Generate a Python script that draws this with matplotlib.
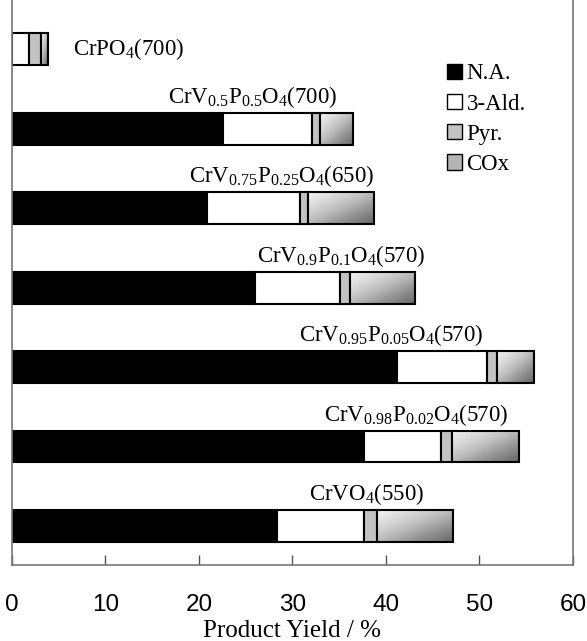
import numpy as np
import matplotlib
matplotlib.use("Agg")
import matplotlib.pyplot as plt
from matplotlib.patches import Patch

plt.rcParams['font.family'] = ['Liberation Serif', 'DejaVu Serif']
plt.rcParams['mathtext.fontset'] = 'custom'
plt.rcParams['mathtext.rm'] = 'Liberation Serif'
plt.rcParams['mathtext.it'] = 'Liberation Serif:italic'

# catalysts, top to bottom
catalysts = ["CrPO$_4$(700)",
             "CrV$_{\\mathrm{0.5}}$P$_{\\mathrm{0.5}}$O$_4$(700)",
             "CrV$_{\\mathrm{0.75}}$P$_{\\mathrm{0.25}}$O$_4$(650)",
             "CrV$_{\\mathrm{0.9}}$P$_{\\mathrm{0.1}}$O$_4$(570)",
             "CrV$_{\\mathrm{0.95}}$P$_{\\mathrm{0.05}}$O$_4$(570)",
             "CrV$_{\\mathrm{0.98}}$P$_{\\mathrm{0.02}}$O$_4$(570)",
             "CrVO$_4$(550)"]
na   = [0.0, 22.6, 20.9, 26.0, 41.2, 37.6, 28.3]
ald3 = [1.8, 9.5, 9.9, 9.1, 9.6, 8.3, 9.4]
pyr  = [1.3, 0.8, 0.9, 1.0, 1.1, 1.2, 1.3]
cox  = [0.7, 3.6, 7.0, 7.0, 3.9, 7.1, 8.2]
series_names = ["N.A.", "3-Ald.", "Pyr.", "COx"]

# where each catalyst label sits (x centre, data units); first one is left-aligned
label_x = [6.5, 25.7, 28.8, 35.2, 40.5, 43.2, 37.9]

fig = plt.figure(figsize=(5.87, 6.41), dpi=100)
ax = fig.add_axes([0.0204, 0.1186, 0.9557, 0.8814])

n = len(catalysts)
y = np.arange(n)[::-1]
h = 0.4
na_a, ald_a, pyr_a, cox_a = map(np.array, (na, ald3, pyr, cox))

ax.barh(y, na_a, height=h, color='black', edgecolor='black', lw=1.5)
ax.barh(y, ald_a, left=na_a, height=h, color='white', edgecolor='black', lw=1.5)
ax.barh(y, pyr_a, left=na_a + ald_a, height=h, color='#c2c2c2', edgecolor='black', lw=1.5)
cbars = ax.barh(y, cox_a, left=na_a + ald_a + pyr_a, height=h, color='none',
                edgecolor='black', lw=1.5, zorder=3)

# gradient fill for COx (light top-left, darker bottom-right)
gx, gy = np.meshgrid(np.linspace(0, 1, 60), np.linspace(0, 1, 20))
grad = 0.5 * gx + 0.5 * gy
for b in cbars:
    x0, yb, w, hh = b.get_x(), b.get_y(), b.get_width(), b.get_height()
    im = ax.imshow(grad, extent=(x0, x0 + w, yb, yb + hh), origin='upper',
                   cmap='Greys', vmin=-0.2, vmax=1.6, aspect='auto',
                   interpolation='bilinear', zorder=2)
    im.set_clip_path(b)

for i in range(n):
    if i == 0:
        ax.text(label_x[i], y[i], catalysts[i], ha='left', va='center',
                fontsize=16.5)
    else:
        ax.text(label_x[i], y[i] + h / 2 + 0.125, catalysts[i],
                ha='center', va='baseline', fontsize=16.5)

ax.set_xlim(0, 60)
ax.set_ylim(-0.49, 6.62)
ax.set_yticks([])
ax.set_xticks(np.arange(0, 61, 10))
ax.tick_params(axis='x', direction='in', length=7, width=1, color='#555555',
               pad=21, labelsize=17.5)
for lab in ax.get_xticklabels():
    lab.set_fontfamily('Liberation Sans')
for s in ['left', 'right', 'bottom']:
    ax.spines[s].set_color('#777777')
    ax.spines[s].set_linewidth(1.2)
ax.spines['top'].set_visible(False)

ax.set_xlabel("Product Yield / %", fontsize=18, labelpad=3)

handles = [Patch(facecolor='black', edgecolor='black'),
           Patch(facecolor='white', edgecolor='black'),
           Patch(facecolor='#c2c2c2', edgecolor='black'),
           Patch(facecolor='#b4b4b4', edgecolor='black')]
ax.legend(handles, series_names, loc='upper left', bbox_to_anchor=(0.759, 0.904),
          borderaxespad=0, frameon=False, fontsize=16.5, handlelength=0.65,
          handleheight=0.65, handletextpad=0.2, labelspacing=0.4)

fig.savefig("out.png", dpi=100)
